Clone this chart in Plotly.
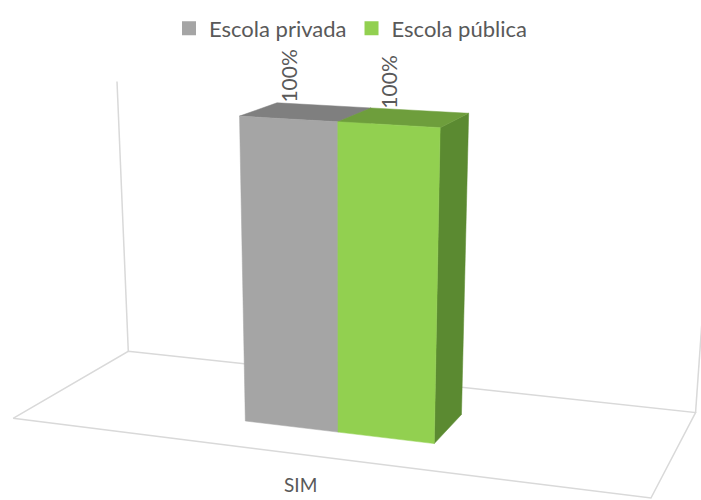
import numpy as np
import plotly.graph_objects as go

# ---- data ----
categories = ["SIM"]
series_names = ["Escola privada", "Escola pública"]
series_values = [100, 100]          # percent
value_axis_max = 100                # top of the back wall, percent

# ---- styling ----
front_colors = ["#A5A5A5", "#92D050"]
top_colors = ["#7F7F7F", "#6E9E3C"]
side_colors = ["#8C8C8C", "#5B8A31"]
grid_color = "#D9D9D9"
text_color = "#595959"

# ---- 3-D layout of the plot (in units of one bar width) ----
BAR_W = 1.0
FLOOR_W = 6.5                       # category width: two bars + 450 % gap
FLOOR_D = 2.57                      # floor depth
BAR_Y0, BAR_Y1 = 0.73, 1.68         # bar depth extent
HEIGHT_PER_PCT = 0.03075            # vertical world units per percent

# ---- camera (perspective view from the front-right, looking down) ----
YAW, PITCH, ROLL = 0.3403, 0.3240, 0.0031
DIST, FOCAL = 17.28, 1688.2
CX, CY = 356.7, 415.4


def project(points):
    """Perspective-project world points (x, y, z) onto the 701x500 canvas."""
    pts = np.atleast_2d(np.asarray(points, float))
    fwd = np.array([-np.sin(YAW) * np.cos(PITCH), np.cos(YAW) * np.cos(PITCH), -np.sin(PITCH)])
    r0 = np.array([np.cos(YAW), np.sin(YAW), 0.0])
    u0 = np.cross(r0, fwd)
    right = np.cos(ROLL) * r0 + np.sin(ROLL) * u0
    up = -np.sin(ROLL) * r0 + np.cos(ROLL) * u0
    target = np.array([FLOOR_W / 2, FLOOR_D / 2, 0.0])
    cam = target - DIST * fwd
    q = pts - cam
    xc, yc, zc = q @ right, q @ up, q @ fwd
    return CX + FOCAL * xc / zc, CY - FOCAL * yc / zc


fig = go.Figure()

# floor outline and back-wall edges
u, v = project([(0, 0, 0), (FLOOR_W, 0, 0), (FLOOR_W, FLOOR_D, 0), (0, FLOOR_D, 0), (0, 0, 0)])
fig.add_trace(go.Scatter(x=u, y=v, mode="lines", line=dict(color=grid_color, width=1.5),
                         showlegend=False, hoverinfo="skip"))
for xw in (0, FLOOR_W):
    u, v = project([(xw, FLOOR_D, 0), (xw, FLOOR_D, value_axis_max * HEIGHT_PER_PCT)])
    fig.add_trace(go.Scatter(x=u, y=v, mode="lines", line=dict(color=grid_color, width=1.5),
                             showlegend=False, hoverinfo="skip"))

# 3-D columns (one cluster for the single category)
x_start = (FLOOR_W - len(series_values) * BAR_W) / 2
for i, val in enumerate(series_values):
    xa = x_start + i * BAR_W
    xb = xa + BAR_W
    h = val * HEIGHT_PER_PCT
    faces = [
        (side_colors[i], [(xb, BAR_Y0, 0), (xb, BAR_Y1, 0), (xb, BAR_Y1, h), (xb, BAR_Y0, h)]),
        (top_colors[i], [(xa, BAR_Y0, h), (xb, BAR_Y0, h), (xb, BAR_Y1, h), (xa, BAR_Y1, h)]),
        (front_colors[i], [(xa, BAR_Y0, 0), (xb, BAR_Y0, 0), (xb, BAR_Y0, h), (xa, BAR_Y0, h)]),
    ]
    for color, pts in faces:
        u, v = project(pts + [pts[0]])
        fig.add_trace(go.Scatter(x=u, y=v, mode="lines", fill="toself", fillcolor=color,
                                 line=dict(color=color, width=0.5), showlegend=False,
                                 hoverinfo="skip"))
    # data label above the column
    u, v = project([((xa + xb) / 2, BAR_Y0, h)])
    fig.add_annotation(x=u[0], y=v[0], text=f"{val}%", textangle=-90, showarrow=False,
                       xanchor="center", yanchor="bottom", yshift=14,
                       font=dict(family="Lato", size=21, color=text_color))

# legend entries
for name, c in zip(series_names, front_colors):
    fig.add_trace(go.Scatter(x=[None], y=[None], mode="markers", name=name,
                             marker=dict(symbol="square", size=14, color=c)))

# category label under the floor
u, v = project([(FLOOR_W / 2, 0, 0)])
fig.add_annotation(x=u[0], y=v[0], text=categories[0], showarrow=False, xshift=-11, yshift=-29,
                   font=dict(family="Lato", size=19, color=text_color))

fig.update_layout(
    width=701, height=500, margin=dict(l=0, r=0, t=0, b=0),
    paper_bgcolor="white", plot_bgcolor="white",
    xaxis=dict(range=[0, 701], visible=False, fixedrange=True),
    yaxis=dict(range=[500, 0], visible=False, fixedrange=True),
    legend=dict(orientation="h", x=0.5, xanchor="center", y=0.985, yanchor="top",
                font=dict(family="Lato", size=22, color=text_color)),
)
fig.write_html("out.html")
